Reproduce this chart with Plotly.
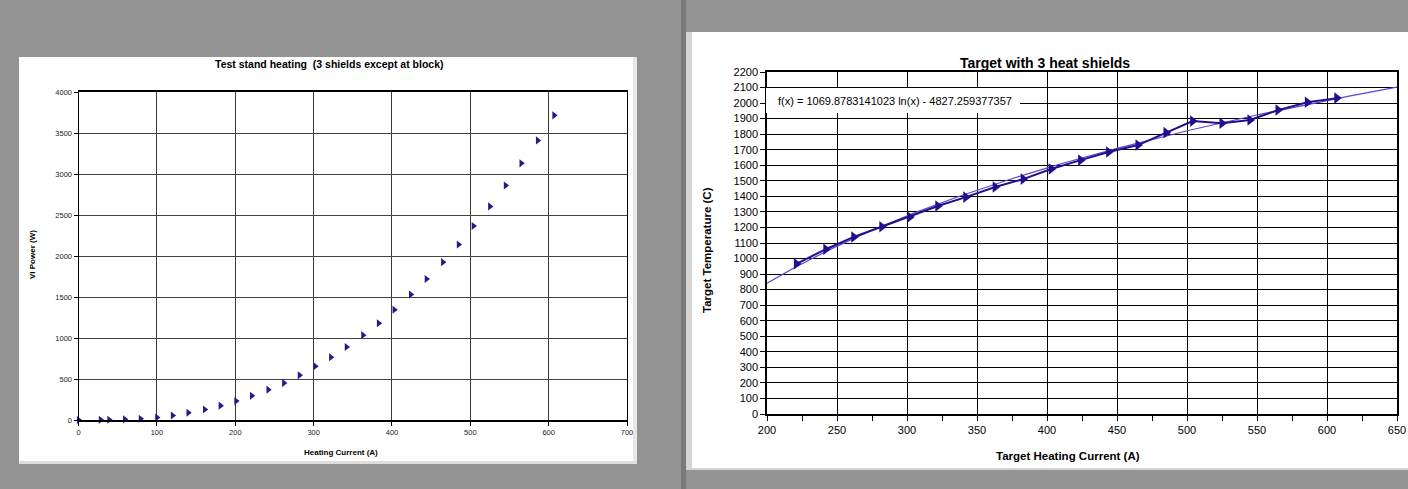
import numpy as np
import plotly.graph_objects as go

W, H = 1408, 489

# ---------------- data ----------------
left_current = [0, 28, 39, 59, 79, 100, 120, 140, 161, 181, 201, 221, 242, 262, 282,
                302, 322, 342, 363, 383, 403, 424, 444, 465, 485, 504, 525, 545, 565, 586, 607]
left_power = [0, 2, 4, 8, 15, 30, 55, 88, 128, 175, 232, 295, 370, 450, 545,
              655, 765, 890, 1035, 1180, 1345, 1530, 1720, 1925, 2140, 2365, 2605, 2860, 3130, 3410, 3715]

right_current = [221, 242, 262, 282, 302, 322, 342, 363, 383, 403,
                 424, 444, 465, 485, 504, 525, 545, 565, 586, 607]
right_temp = [966, 1060, 1139, 1205, 1267, 1338, 1395, 1460, 1511, 1576,
              1633, 1685, 1730, 1810, 1884, 1870, 1891, 1955, 2006, 2032]

fit_a = 1069.8783141023
fit_b = -4827.259377357
fit_range = [200, 650]

left_title = "Test stand heating  (3 shields except at block)"
left_xtitle = "Heating Current (A)"
left_ytitle = "VI Power (W)"
right_title = "Target with 3 heat shields"
right_xtitle = "Target Heating Current (A)"
right_ytitle = "Target Temperature (C)"
fit_label = "f(x) = 1069.8783141023 ln(x) - 4827.259377357"

FONT = "Liberation Sans, Arial, sans-serif"


def X(p):
    return p / W


def Y(p):
    return 1 - p / H


fig = go.Figure()

fig.add_trace(go.Scatter(
    x=left_current, y=left_power, mode="markers", cliponaxis=False,
    marker=dict(symbol="triangle-right", size=7, color="#231a8e"),
    xaxis="x", yaxis="y", showlegend=False, hoverinfo="skip"))

fx = np.linspace(fit_range[0], fit_range[1], 300)
fig.add_trace(go.Scatter(
    x=fx, y=fit_a * np.log(fx) + fit_b, mode="lines",
    line=dict(color="#5b45d8", width=1.2),
    xaxis="x2", yaxis="y2", showlegend=False, hoverinfo="skip"))

fig.add_trace(go.Scatter(
    x=right_current, y=right_temp, mode="lines+markers",
    line=dict(color="#1e108c", width=2),
    marker=dict(symbol="triangle-right", size=10, color="#1e108c"),
    xaxis="x2", yaxis="y2", showlegend=False, hoverinfo="skip"))

shapes = [
    # white panels
    dict(type="rect", xref="paper", yref="paper", x0=X(19), x1=X(637), y0=Y(461), y1=Y(57),
         fillcolor="white", line=dict(width=0), layer="below"),
    dict(type="rect", xref="paper", yref="paper", x0=X(19), x1=X(637), y0=Y(464), y1=Y(461),
         fillcolor="#dedede", line=dict(width=0), layer="below"),
    dict(type="rect", xref="paper", yref="paper", x0=X(633), x1=X(637), y0=Y(461), y1=Y(57),
         fillcolor="#e8e8e8", line=dict(width=0), layer="below"),
    dict(type="rect", xref="paper", yref="paper", x0=X(681), x1=X(686), y0=0, y1=1,
         fillcolor="#7a7a7a", line=dict(width=0), layer="below"),
    dict(type="rect", xref="paper", yref="paper", x0=X(686), x1=X(1408), y0=Y(470), y1=Y(32),
         fillcolor="#d4d4d4", line=dict(width=0), layer="below"),
    dict(type="rect", xref="paper", yref="paper", x0=X(692), x1=X(1408), y0=Y(468), y1=Y(32),
         fillcolor="white", line=dict(width=0), layer="below"),
    # fit label box
    dict(type="rect", xref="paper", yref="paper", x0=X(766), x1=X(1020), y0=Y(113), y1=Y(88),
         fillcolor="white", line=dict(width=0), layer="above"),
]

annotations = [
    dict(text="<b>%s</b>" % left_title, xref="paper", yref="paper", x=X(329), y=Y(64),
         showarrow=False, font=dict(family=FONT, size=10.5, color="black"),
         xanchor="center", yanchor="middle"),
    dict(text="<b>%s</b>" % left_xtitle, xref="paper", yref="paper", x=X(341), y=Y(452),
         showarrow=False, font=dict(family=FONT, size=8, color="black"),
         xanchor="center", yanchor="middle"),
    dict(text="<b>%s</b>" % left_ytitle, xref="paper", yref="paper", x=X(32), y=Y(255),
         showarrow=False, textangle=-90, font=dict(family=FONT, size=8, color="black"),
         xanchor="center", yanchor="middle"),
    dict(text="<b>%s</b>" % right_title, xref="paper", yref="paper", x=X(1045), y=Y(63),
         showarrow=False, font=dict(family=FONT, size=14, color="black"),
         xanchor="center", yanchor="middle"),
    dict(text="<b>%s</b>" % right_xtitle, xref="paper", yref="paper", x=X(1068), y=Y(456),
         showarrow=False, font=dict(family=FONT, size=11.5, color="black"),
         xanchor="center", yanchor="middle"),
    dict(text="<b>%s</b>" % right_ytitle, xref="paper", yref="paper", x=X(707), y=Y(250),
         showarrow=False, textangle=-90, font=dict(family=FONT, size=11.5, color="black"),
         xanchor="center", yanchor="middle"),
    dict(text=fit_label, xref="paper", yref="paper", x=X(776), y=Y(101),
         showarrow=False, xanchor="left", yanchor="middle",
         font=dict(family=FONT, size=11, color="black")),
]

fig.update_layout(
    width=W, height=H,
    margin=dict(l=0, r=0, t=0, b=0, pad=0),
    paper_bgcolor="#939393",
    plot_bgcolor="white",
    shapes=shapes,
    annotations=annotations,
    font=dict(family=FONT, color="black"),
    xaxis=dict(domain=[X(78.6), X(627)], anchor="y", range=[0, 700], dtick=100, tick0=0,
               automargin=False,
               showgrid=True, gridcolor="#3a3a3a", gridwidth=1, zeroline=False,
               showline=True, linecolor="black", linewidth=1.5, mirror=True,
               ticks="outside", ticklen=4, tickcolor="black",
               tickfont=dict(family=FONT, size=7.5, color="#222")),
    yaxis=dict(domain=[Y(420), Y(92)], anchor="x", range=[0, 4000], dtick=500, tick0=0,
               automargin=False,
               showgrid=True, gridcolor="#444444", gridwidth=1, zeroline=False,
               showline=True, linecolor="black", linewidth=1.2, mirror=True,
               ticks="outside", ticklen=4, tickcolor="black",
               tickfont=dict(family=FONT, size=7.5, color="#222")),
    xaxis2=dict(domain=[X(767), X(1397)], anchor="y2", range=[200, 650], dtick=50, tick0=200,
                automargin=False,
                showgrid=True, gridcolor="black", gridwidth=1, zeroline=False,
                showline=True, linecolor="black", linewidth=1.5, mirror=True,
                ticks="outside", ticklen=5, tickcolor="black",
                minor=dict(dtick=25, ticks="outside", ticklen=5, tickcolor="black", showgrid=False),
                tickfont=dict(family=FONT, size=11, color="black")),
    yaxis2=dict(domain=[Y(414), Y(72)], anchor="x2", range=[0, 2200], dtick=100, tick0=0,
                automargin=False,
                showgrid=True, gridcolor="black", gridwidth=1, zeroline=False,
                showline=True, linecolor="black", linewidth=1.5, mirror=True,
                ticks="outside", ticklen=5, tickcolor="black",
                tickfont=dict(family=FONT, size=11, color="black")),
)

fig.write_html("out.html")
